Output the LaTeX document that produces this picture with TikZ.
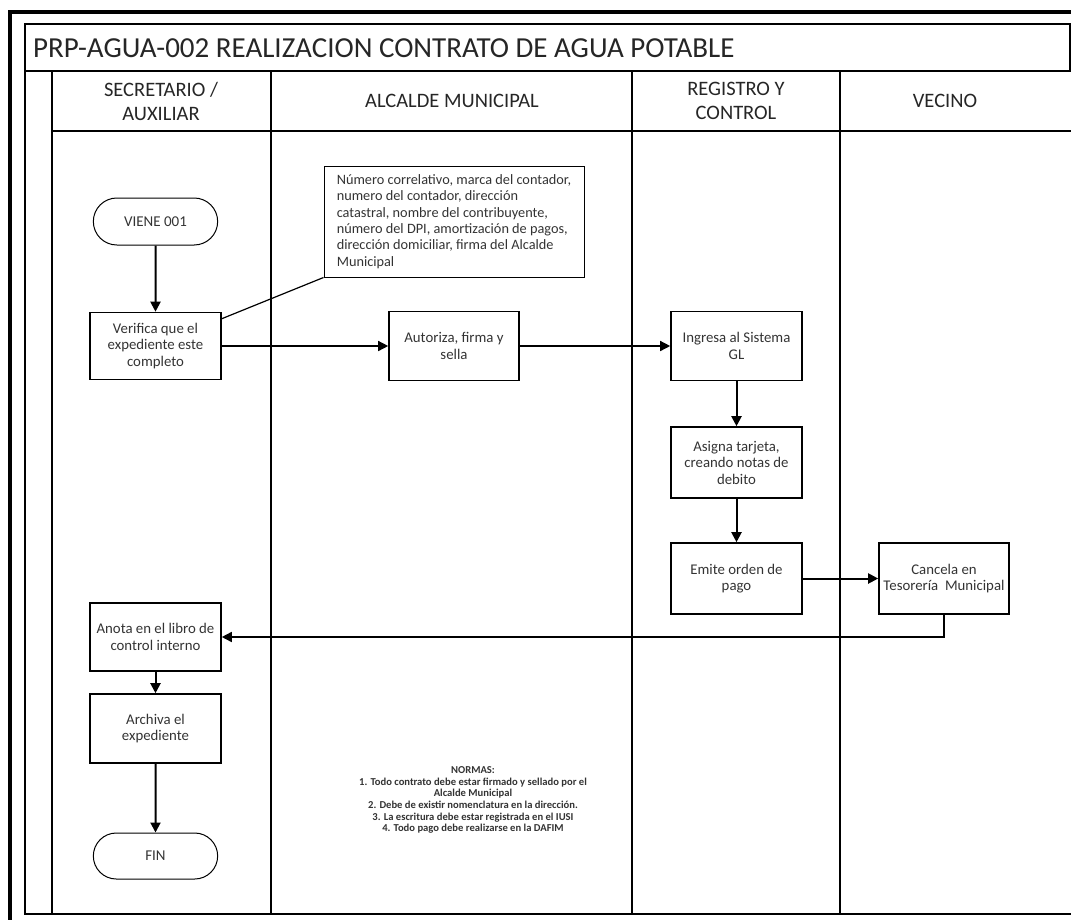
\documentclass[tikz,border=0pt]{standalone}
\usepackage{fontspec}
\setmainfont{Carlito}
\usetikzlibrary{arrows.meta,shapes.misc}
\begin{document}
\begin{tikzpicture}[x=1pt,y=-1pt,
  box/.style={draw, line width=1.6pt, minimum width=131pt, minimum height=69pt, align=center, inner sep=2pt, font=\fontsize{14.8}{16.5}\selectfont, text=black!80},
  term/.style={draw, line width=1pt, rounded rectangle, minimum width=131pt, minimum height=47pt, font=\fontsize{15}{17}\selectfont, text=black!80},
  arr/.style={-{Triangle[length=10pt,width=10pt]}, line width=1.6pt},
  lane/.style={line width=1.8pt},
  hdr/.style={align=center, font=\fontsize{20.5}{24}\selectfont, text=black!85}
]
\useasboundingbox (0,0) rectangle (1071,919);
\clip (0,0) rectangle (1071,919);
% frames
\draw[line width=3.5pt] (10,12) rectangle (1095,945);
\draw[line width=2pt] (1095,24) -- (25,24) -- (25,914) -- (1095,914);
\draw[line width=2pt] (1069.5,24) -- (1069.5,71);
\draw[lane] (25,71) -- (1095,71);
\draw[lane] (52,71) -- (52,914);
\draw[lane] (52,131) -- (1095,131);
\draw[lane] (271,71) -- (271,914);
\draw[lane] (632,71) -- (632,914);
\draw[lane] (840,71) -- (840,914);
% title and headers
\node[anchor=west, font=\fontsize{29}{32}\selectfont, text=black!85, inner sep=0pt] (title) at (33,48) {PRP-AGUA-002 REALIZACION CONTRATO DE AGUA POTABLE};
\node[hdr] (h1) at (161,101) {SECRETARIO /\\AUXILIAR};
\node[hdr] (h2) at (452,101) {ALCALDE MUNICIPAL};
\node[hdr] (h3) at (736,101) {REGISTRO Y\\CONTROL};
\node[hdr] (h4) at (945,101) {VECINO};
% nodes
\node[term] (viene) at (155.5,221.5) {VIENE 001};
\node[box, minimum height=67pt] (verif) at (155.5,346) {Verifica que el\\expediente este\\completo};
\node[draw, line width=1pt, minimum width=260pt, minimum height=111pt, align=left, font=\fontsize{14.3}{16.4}\selectfont, text=black!80] (note) at (454,221.5) {Número correlativo, marca del contador,\\numero del contador, dirección\\catastral, nombre del contribuyente,\\número del DPI, amortización de pagos,\\dirección domiciliar, firma del Alcalde\\Municipal};
\node[box, minimum width=130pt] (autor) at (454,346) {Autoriza, firma y\\sella};
\node[box] (ingresa) at (736.5,346) {Ingresa al Sistema\\GL};
\node[box, minimum height=71pt] (asigna) at (736.5,462.5) {Asigna tarjeta,\\creando notas de\\debito};
\node[box, minimum height=71pt] (emite) at (736.5,578.5) {Emite orden de\\pago};
\node[box, minimum width=130pt, minimum height=71pt] (cancela) at (944,578.5) {Cancela en\\Tesorería~~Municipal};
\node[box, minimum height=68pt] (anota) at (155.5,637) {Anota en el libro de\\control interno};
\node[box] (archiva) at (155.5,728.5) {Archiva el\\expediente};
\node[term, minimum height=46pt] (fin) at (155.5,856) {FIN};
\node[align=center, font=\bfseries\fontsize{10.6}{11.7}\selectfont, text=black!80] (normas) at (473,800) {NORMAS:\\1. Todo contrato debe estar firmado y sellado por el\\Alcalde Municipal\\2. Debe de existir nomenclatura en la dirección.\\3. La escritura debe estar registrada en el IUSI\\4. Todo pago debe realizarse en la DAFIM};
% connectors
\draw[arr, line width=2pt] (viene) -- (verif);
\draw[line width=1.2pt] (note.south west) -- ([yshift=-7pt]verif.north east);
\draw[arr, line width=1.4pt] (verif) -- (autor);
\draw[arr, line width=1.4pt] (autor) -- (ingresa);
\draw[arr, line width=2pt] (ingresa) -- (asigna);
\draw[arr, line width=2pt] (asigna) -- (emite);
\draw[arr, line width=2pt] (emite) -- (cancela);
\draw[arr, line width=1.6pt] (cancela.south) |- (anota.east);
\draw[arr, line width=2pt] (anota) -- (archiva);
\draw[arr, line width=2pt] (archiva) -- (fin);
\end{tikzpicture}
\end{document}
